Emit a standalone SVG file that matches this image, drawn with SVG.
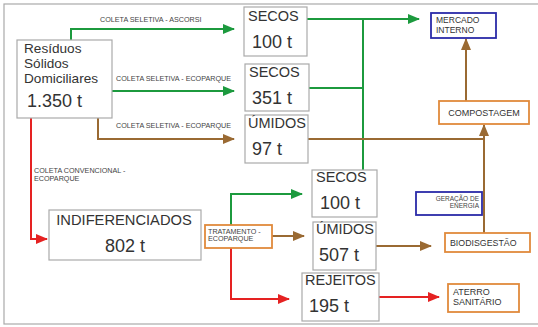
<svg xmlns="http://www.w3.org/2000/svg" width="538" height="327" viewBox="0 0 538 327">
<style>
.box{fill:#fff;stroke:#aaa;stroke-width:1.2}
.obox{fill:#fff;stroke:#e08a3c;stroke-width:1.8}
.bbox{fill:#fff;stroke:#2b2ba8;stroke-width:1.8}
text{font-family:"Liberation Sans",Arial,sans-serif;fill:#333}
.big{font-size:14.5px}
.rsd{font-size:13.6px}
.num{font-size:18px}
.lbl{font-size:7.2px;fill:#444}
.sm{font-size:8.5px}
.g{stroke:#1c9a3e;stroke-width:2;fill:none}
.br{stroke:#9a6a33;stroke-width:2;fill:none}
.r{stroke:#e52222;stroke-width:2;fill:none}
</style>
<defs>
<marker id="ag" markerWidth="12" markerHeight="10" refX="11" refY="5" orient="auto" markerUnits="userSpaceOnUse"><path d="M0,0 L12,5 L0,10 Z" fill="#1c9a3e"/></marker>
<marker id="ab" markerWidth="12" markerHeight="10" refX="11" refY="5" orient="auto" markerUnits="userSpaceOnUse"><path d="M0,0 L12,5 L0,10 Z" fill="#9a6a33"/></marker>
<marker id="ar" markerWidth="12" markerHeight="10" refX="11" refY="5" orient="auto" markerUnits="userSpaceOnUse"><path d="M0,0 L12,5 L0,10 Z" fill="#e52222"/></marker>
</defs>
<rect x="0" y="0" width="538" height="327" fill="#fff"/>
<rect x="4" y="4" width="545" height="320" fill="none" stroke="#aaa" stroke-width="1.2"/>

<g id="connectors">
<path class="g" d="M71,40 V29 H234" marker-end="url(#ag)"/>
<path class="g" d="M112,91 H234" marker-end="url(#ag)"/>
<path class="br" d="M98,118 V139 H234" marker-end="url(#ab)"/>
<path class="r" d="M31,118 V239 H47" marker-end="url(#ar)"/>
<path class="g" d="M307,19 H419" marker-end="url(#ag)"/>
<path class="g" d="M363,19 V170"/>
<path class="g" d="M309,88 H363"/>
<path class="br" d="M308,139 H484"/>
<path class="br" d="M484,233 V125" marker-end="url(#ab)"/>
<path class="br" d="M466,101 V39" marker-end="url(#ab)"/>
<path class="g" d="M231,225 V194 H302" marker-end="url(#ag)"/>
<path class="br" d="M272,236 H304" marker-end="url(#ab)"/>
<path class="r" d="M231,248 V299 H289" marker-end="url(#ar)"/>
<path class="br" d="M376,246 H431" marker-end="url(#ab)"/>
<path class="r" d="M379,297 H439" marker-end="url(#ar)"/>
<text class="lbl" x="100" y="22">COLETA SELETIVA - ASCORSI</text>
<text class="lbl" x="116" y="81">COLETA SELETIVA - ECOPARQUE</text>
<text class="lbl" x="116" y="128">COLETA SELETIVA - ECOPARQUE</text>
<text class="lbl" x="34" y="173">COLETA CONVENCIONAL -</text>
<text class="lbl" x="34" y="180.5">ECOPARQUE</text>
</g>

<g id="rsd">
<rect class="box" x="17" y="40" width="95" height="78"/>
<text class="rsd" x="24" y="53">Resíduos</text>
<text class="rsd" x="24" y="68">Sólidos</text>
<text class="rsd" x="24" y="82.5">Domiciliares</text>
<text class="num" x="27" y="107">1.350 t</text>
</g>

<g id="secos1">
<rect class="box" x="244" y="7" width="63" height="49"/>
<text class="big" x="248" y="21">SECOS</text>
<text class="num" x="252" y="48">100 t</text>
</g>

<g id="secos2">
<rect class="box" x="245" y="64" width="64" height="47"/>
<text class="big" x="249" y="77">SECOS</text>
<text class="num" x="252" y="104">351 t</text>
</g>

<g id="umidos1">
<rect class="box" x="245" y="115" width="63" height="48"/>
<text class="big" x="248" y="128">ÚMIDOS</text>
<text class="num" x="252" y="155">97 t</text>
</g>

<g id="mercado">
<rect class="bbox" x="431" y="13" width="65" height="25"/>
<text class="sm" x="436" y="22.5">MERCADO</text>
<text class="sm" x="436" y="32.5">INTERNO</text>
</g>

<g id="compostagem">
<rect class="obox" x="439" y="101" width="90" height="23"/>
<text class="sm" x="484" y="115.5" text-anchor="middle" style="font-size:9px">COMPOSTAGEM</text>
</g>

<g id="indiferenciados">
<rect class="box" x="49" y="210" width="152" height="50"/>
<text class="big" x="124" y="225" text-anchor="middle" style="font-size:14.7px">INDIFERENCIADOS</text>
<text class="num" x="125" y="252" text-anchor="middle">802 t</text>
</g>

<g id="tratamento">
<rect class="obox" x="205" y="225" width="67" height="23"/>
<text class="lbl" x="208" y="233.5">TRATAMENTO -</text>
<text class="lbl" x="208" y="241">ECOPARQUE</text>
</g>

<g id="secos3">
<rect class="box" x="312" y="170" width="65" height="47"/>
<text class="big" x="316" y="182">SECOS</text>
<text class="num" x="320" y="209">100 t</text>
</g>

<g id="umidos2">
<rect class="box" x="313" y="222" width="63" height="48"/>
<text class="big" x="316" y="234">ÚMIDOS</text>
<text class="num" x="319" y="261">507 t</text>
</g>

<g id="rejeitos">
<rect class="box" x="302" y="273" width="77" height="48"/>
<text class="big" x="305" y="285">REJEITOS</text>
<text class="num" x="309" y="312">195 t</text>
</g>

<g id="energia">
<rect class="bbox" x="416" y="192" width="66" height="23"/>
<text class="lbl" x="479" y="200.5" text-anchor="end" style="font-size:6.5px">GERAÇÃO DE</text>
<text class="lbl" x="479" y="207.5" text-anchor="end" style="font-size:6.5px">ENERGIA</text>
</g>

<g id="biodigestao">
<rect class="obox" x="445" y="233" width="85" height="19"/>
<text class="sm" x="450" y="245.5" style="font-size:8.8px">BIODISGESTÃO</text>
</g>

<g id="aterro">
<rect class="obox" x="448" y="284" width="71" height="28"/>
<text class="sm" x="453" y="295" style="font-size:9px">ATERRO</text>
<text class="sm" x="453" y="305" style="font-size:9px">SANITÁRIO</text>
</g>
</svg>
